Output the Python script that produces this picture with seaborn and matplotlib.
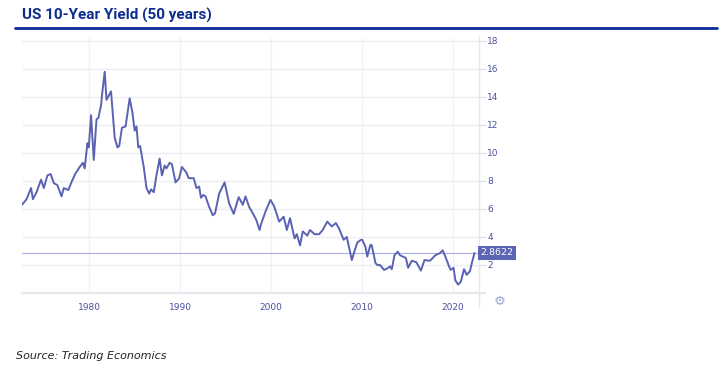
import pandas
import numpy
import seaborn as sns
import matplotlib.pyplot as plt

#data (decimal year, yield %)
years = [1972.6, 1973.1, 1973.6, 1973.8, 1974.2, 1974.7, 1975.0, 1975.4, 1975.75, 1976.1,
         1976.5, 1976.95, 1977.2, 1977.7, 1978.1, 1978.5, 1978.95, 1979.3, 1979.5, 1979.8,
         1979.95, 1980.2, 1980.5, 1980.8, 1981.0, 1981.3, 1981.4, 1981.7, 1981.9, 1982.15,
         1982.4, 1982.8, 1983.1, 1983.3, 1983.6, 1984.0, 1984.45, 1984.75, 1985.0, 1985.2,
         1985.4, 1985.6, 1986.0, 1986.3, 1986.6, 1986.8, 1987.1, 1987.4, 1987.75, 1988.0,
         1988.3, 1988.5, 1988.85, 1989.1, 1989.5, 1989.9, 1990.2, 1990.7, 1990.95, 1991.5,
         1991.8, 1992.1, 1992.3, 1992.55, 1992.8, 1993.2, 1993.6, 1993.85, 1994.3, 1994.9,
         1995.4, 1995.9, 1996.45, 1996.9, 1997.2, 1997.6, 1998.0, 1998.4, 1998.75, 1998.9,
         1999.45, 1999.95, 2000.35, 2000.9, 2001.4, 2001.75, 2002.1, 2002.6, 2002.85, 2003.2,
         2003.5, 2004.0, 2004.3, 2004.8, 2005.3, 2005.7, 2006.2, 2006.7, 2007.15, 2007.5,
         2008.0, 2008.35, 2008.9, 2009.2, 2009.5, 2009.9, 2010.05, 2010.4, 2010.6, 2010.95,
         2011.1, 2011.5, 2011.7, 2012.0, 2012.45, 2012.8, 2013.1, 2013.3, 2013.6, 2013.95,
         2014.2, 2014.85, 2015.1, 2015.5, 2016.0, 2016.5, 2016.9, 2017.5, 2018.1, 2018.6,
         2018.9, 2019.2, 2019.6, 2019.8, 2020.1, 2020.3, 2020.6, 2020.9, 2021.25, 2021.55,
         2021.9, 2022.1, 2022.4]
yields = [6.3, 6.7, 7.5, 6.7, 7.2, 8.1, 7.5, 8.4, 8.5, 7.85,
          7.7, 6.9, 7.5, 7.35, 8.0, 8.55, 9.0, 9.3, 8.9, 10.7,
          10.4, 12.7, 9.5, 12.4, 12.5, 13.4, 14.1, 15.8, 13.8, 14.1,
          14.4, 11.1, 10.4, 10.5, 11.8, 11.9, 13.9, 12.9, 11.6, 11.9,
          10.4, 10.5, 9.0, 7.5, 7.1, 7.4, 7.2, 8.4, 9.6, 8.4,
          9.1, 8.9, 9.3, 9.2, 7.9, 8.2, 9.0, 8.6, 8.2, 8.2,
          7.5, 7.6, 6.8, 7.0, 6.9, 6.15, 5.55, 5.7, 7.1, 7.9,
          6.4, 5.65, 6.85, 6.3, 6.9, 6.15, 5.7, 5.2, 4.5, 4.9,
          5.9, 6.65, 6.2, 5.1, 5.45, 4.5, 5.35, 3.9, 4.2, 3.4,
          4.4, 4.1, 4.5, 4.2, 4.2, 4.5, 5.1, 4.75, 5.0, 4.6,
          3.8, 4.0, 2.35, 3.0, 3.6, 3.8, 3.8, 3.3, 2.6, 3.45,
          3.4, 2.15, 2.0, 2.0, 1.65, 1.75, 1.9, 1.7, 2.7, 2.95,
          2.7, 2.5, 1.8, 2.3, 2.2, 1.6, 2.35, 2.3, 2.7, 2.85,
          3.05, 2.6, 1.9, 1.65, 1.8, 0.9, 0.6, 0.8, 1.7, 1.3,
          1.55, 2.1, 2.86]
last_value = 2.8622
y_ticks = [2, 4, 6, 8, 10, 12, 14, 16, 18]
x_ticks = [1980, 1990, 2000, 2010, 2020]

df = pandas.DataFrame({"year": years, "yield": yields})

line_color = "#5a62b3"
tick_color = "#4a50a0"

sns.set_style("white")
fig = plt.figure(figsize=(7.25, 3.69), dpi=100)
ax = fig.add_axes([22/725, 76/369, 457/725, 254.8/369])

sns.lineplot(data=df, x="year", y="yield", ax=ax, color=line_color, linewidth=1.4)

ax.set_xlim(1972.6, 2022.9)
ax.set_ylim(0, 18.2)
ax.set_xlabel("")
ax.set_ylabel("")

#grid
for yt in y_ticks:
    ax.axhline(yt, color="#eeeef5", linewidth=1, zorder=0)
for xt in x_ticks:
    ax.axvline(xt, color="#f0f0f6", linewidth=1, zorder=0)

#last value line
ax.axhline(last_value, color="#a9aee6", linewidth=0.8, zorder=1)

for s in ax.spines.values():
    s.set_visible(False)
ax.plot([0, 1.013], [0, 0], transform=ax.transAxes, color="#e6e6ee", linewidth=1.5, clip_on=False)
ax.plot([1, 1], [-0.055, 1.01], transform=ax.transAxes, color="#e6e6ee", linewidth=1, clip_on=False)

ax.yaxis.tick_right()
ax.set_yticks(y_ticks)
ax.set_yticklabels([str(v) for v in y_ticks])
ax.set_xticks(x_ticks)
ax.set_xticklabels([str(v) for v in x_ticks])
ax.tick_params(axis="y", length=5, color="#dcdce6", labelcolor=tick_color, labelsize=6.5, pad=1)
ax.tick_params(axis="x", length=0, labelcolor=tick_color, labelsize=6.5, pad=7)

#value box
ax.text(1.003, last_value, "2.8622", transform=ax.get_yaxis_transform(), ha="left", va="center",
        fontsize=6.8, color="white",
        bbox=dict(boxstyle="square,pad=0.3", facecolor="#5c64b4", edgecolor="none"))

#gear icon
fig.text(500/725, 1 - 301/369, "\u2699", ha="center", va="center", fontsize=9.5, color="#9ea2d4")

#title
fig.text(22/725, 1 - 15/369, "US 10-Year Yield (50 years)", ha="left", va="center",
         fontsize=11, fontweight="bold", color="#0d2c8f", family=["Roboto", "DejaVu Sans"])
fig.add_artist(plt.Line2D([15/725, 717/725], [1 - 28/369, 1 - 28/369], color="#0b2a99", linewidth=2))

fig.text(16/725, 1 - 356/369, "Source: Trading Economics", ha="left", va="center",
         fontsize=8, style="italic", color="#222222")

plt.savefig("out.png", dpi=100)
